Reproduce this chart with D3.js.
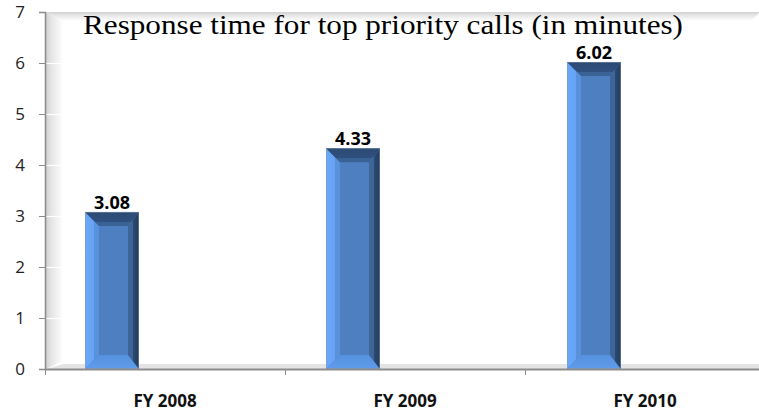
<!DOCTYPE html>
<html>
<head>
<meta charset="utf-8">
<script src="https://cdn.jsdelivr.net/npm/d3@7"></script>
<style>
  html, body { margin: 0; padding: 0; background: #fff; }
  svg { display: block; }
</style>
</head>
<body>
<svg id="chart" width="759" height="414"></svg>
<script>
const categories = ["FY 2008", "FY 2009", "FY 2010"];
const values = [3.08, 4.33, 6.02];
const valueLabels = ["3.08", "4.33", "6.02"];
const yTicks = [0, 1, 2, 3, 4, 5, 6, 7];
const title = "Response time for top priority calls (in minutes)";

const W = 759, H = 414;
const svg = d3.select("#chart");

const y = d3.scaleLinear().domain([0, 7]).range([369, 12]);
const x = d3.scaleBand().domain(categories).range([45, 765]).padding(0);

const defs = svg.append("defs");
function lg(id, dir, stops) {
  const g = defs.append("linearGradient").attr("id", id);
  if (dir === "h") g.attr("x1", 0).attr("y1", 0).attr("x2", 1).attr("y2", 0);
  else g.attr("x1", 0).attr("y1", 0).attr("x2", 0).attr("y2", 1);
  stops.forEach(s => g.append("stop").attr("offset", s[0]).attr("stop-color", s[1]));
}
lg("wallL", "h", [[0, "#cfcfcf"], [0.25, "#e2e2e2"], [1, "#ffffff"]]);
lg("wallT", "v", [[0, "#d8d8d8"], [0.3, "#e6e6e6"], [1, "#ffffff"]]);
lg("bLeft", "h", [[0, "#6aa8fb"], [0.62, "#66a3f5"], [0.64, "#5a91db"], [1, "#5a91db"]]);
lg("bTop", "v", [[0, "#2c4a72"], [0.7, "#2f5080"], [0.72, "#3b6294"], [1, "#3b6294"]]);
lg("bRight", "h", [[0, "#3d6597"], [0.45, "#3d6597"], [0.47, "#2b4a70"], [1, "#243d5e"]]);
lg("bBottom", "v", [[0, "#5691de"], [1, "#5f9cea"]]);

// 3D walls
const xL = 45, xR = W, yT = y(7), yB = y(0);
svg.append("polygon")
  .attr("points", [[xL + 1, yT + 1], [xR, yT + 1], [xR - 8, yT + 9], [xL + 18, yT + 9]].join(" "))
  .attr("fill", "url(#wallT)");
svg.append("line").attr("x1", xL).attr("x2", xR).attr("y1", yT + 0.5).attr("y2", yT + 0.5)
  .attr("stroke", "#d4d4d4").attr("stroke-width", 1);
svg.append("polygon")
  .attr("points", [[xL + 1, yT + 1], [xL + 18, yT + 9], [xL + 18, yB - 8], [xL + 1, yB]].join(" "))
  .attr("fill", "url(#wallL)");
// floor
svg.append("polygon")
  .attr("points", [[xL + 1, yB], [xL + 18, yB - 5], [xR, yB - 5], [xR, yB]].join(" "))
  .attr("fill", "#e4e4e4");

// white gridlines on the side wall
svg.append("g").selectAll("line").data(yTicks.filter(d => d > 0 && d < 7)).join("line")
  .attr("x1", xL + 1).attr("x2", xL + 18)
  .attr("y1", d => Math.round(y(d)) + 0.5).attr("y2", d => Math.round(y(d)) + 0.5)
  .attr("stroke", "#ffffff").attr("stroke-width", 1.2);

// Bars (bevelled)
const bw = 54, b = 14, br = 11;
const bars = svg.append("g").selectAll("g").data(categories).join("g");
bars.each(function (c, i) {
  const g = d3.select(this);
  const x0 = x(c) + 40 + i, x1 = x0 + bw;
  const y0 = y(values[i]), y1 = y(0);
  g.append("rect").attr("x", x0).attr("y", y0).attr("width", bw).attr("height", y1 - y0)
    .attr("fill", "#4e7fc0");
  g.append("polygon").attr("points", [[x0, y0], [x0 + b, y0 + b], [x0 + b, y1 - b], [x0, y1]].join(" "))
    .attr("fill", "url(#bLeft)");
  g.append("polygon").attr("points", [[x0, y1], [x0 + b, y1 - b], [x1 - br, y1 - b], [x1, y1]].join(" "))
    .attr("fill", "url(#bBottom)");
  g.append("polygon").attr("points", [[x1, y0], [x1 - br, y0 + b], [x1 - br, y1 - b], [x1, y1]].join(" "))
    .attr("fill", "url(#bRight)");
  g.append("polygon").attr("points", [[x0, y0], [x1, y0], [x1 - br, y0 + b], [x0 + b, y0 + b]].join(" "))
    .attr("fill", "url(#bTop)");
  g.append("rect").attr("x", x0 + 0.5).attr("y", y0 + 0.5).attr("width", bw - 1).attr("height", y1 - y0 - 1)
    .attr("fill", "none").attr("stroke", "#8a9bb5").attr("stroke-width", 0.8).attr("stroke-opacity", 0.6);
  g.append("text")
    .attr("x", x0 + bw / 2).attr("y", y0 - 3)
    .attr("text-anchor", "middle")
    .attr("font-family", "'Open Sans', sans-serif").attr("font-weight", "bold")
    .attr("font-size", 18).attr("fill", "#000")
    .text(valueLabels[i]);
});

// Y axis
const yAxis = svg.append("g").attr("transform", `translate(${xL},0)`)
  .call(d3.axisLeft(y).tickValues(yTicks).tickSize(6).tickPadding(14).tickFormat(d3.format("d")));
yAxis.select(".domain").attr("stroke", "#8c8c8c").attr("stroke-width", 1.5);
yAxis.selectAll(".tick line").attr("stroke", "#8c8c8c");
yAxis.selectAll(".tick text").attr("font-family", "'Open Sans', sans-serif").attr("font-size", 17)
  .attr("fill", "#222");

// X axis
const xAxis = svg.append("g").attr("transform", `translate(0,${yB})`)
  .call(d3.axisBottom(x).tickSize(0).tickPadding(26));
xAxis.select(".domain").remove();
xAxis.selectAll(".tick text").attr("font-family", "'Open Sans', sans-serif").attr("font-weight", "bold")
  .attr("font-size", 17).attr("fill", "#111");
svg.append("line").attr("x1", xL).attr("x2", W).attr("y1", yB + 0.5).attr("y2", yB + 0.5)
  .attr("stroke", "#8c8c8c").attr("stroke-width", 2.2);
const bounds = categories.map(c => x(c)).concat([x(categories[categories.length - 1]) + x.bandwidth()]);
svg.append("g").selectAll("line").data(bounds).join("line")
  .attr("x1", d => Math.round(d) + 0.5).attr("x2", d => Math.round(d) + 0.5)
  .attr("y1", yB).attr("y2", yB + 6)
  .attr("stroke", "#8c8c8c").attr("stroke-width", 1);

// Title
svg.append("text")
  .attr("x", 83).attr("y", 34)
  .attr("font-family", "'Liberation Serif', 'Times New Roman', serif")
  .attr("font-size", 28).attr("fill", "#000")
  .attr("textLength", 600).attr("lengthAdjust", "spacingAndGlyphs")
  .text(title);
</script>
</body>
</html>
